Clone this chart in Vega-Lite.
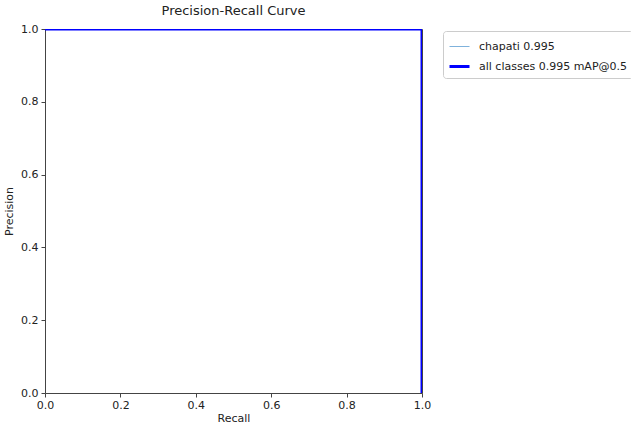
{
  "$schema": "https://vega.github.io/schema/vega-lite/v6.json",
  "width": 377,
  "height": 364,
  "autosize": {"type": "none"},
  "padding": {"left": 45, "top": 29, "right": 209, "bottom": 31},
  "background": "white",
  "config": {
    "font": "DejaVu Sans",
    "view": {"stroke": "#444444", "strokeWidth": 1},
    "axis": {"grid": false, "domain": false, "labelFlush": false, "tickColor": "#444444", "tickSize": 4, "labelColor": "#222", "labelFontSize": 11, "titleFontSize": 11, "titleFontWeight": "normal", "titleColor": "#222", "labelFont": "DejaVu Sans", "titleFont": "DejaVu Sans"}
  },
  "title": {"text": "Precision-Recall Curve", "fontSize": 13, "fontWeight": "normal", "font": "DejaVu Sans", "color": "#222", "offset": 5},
  "data": {
    "values": [
      {"series": "chapati 0.995", "order": 0, "recall": 0, "precision": 1},
      {"series": "chapati 0.995", "order": 1, "recall": 0.99, "precision": 1},
      {"series": "chapati 0.995", "order": 2, "recall": 1, "precision": 1},
      {"series": "chapati 0.995", "order": 3, "recall": 1, "precision": 0},
      {"series": "all classes 0.995 mAP@0.5", "order": 0, "recall": 0, "precision": 1},
      {"series": "all classes 0.995 mAP@0.5", "order": 1, "recall": 0.99, "precision": 1},
      {"series": "all classes 0.995 mAP@0.5", "order": 2, "recall": 1, "precision": 1},
      {"series": "all classes 0.995 mAP@0.5", "order": 3, "recall": 1, "precision": 0}
    ]
  },
  "mark": {"type": "line", "clip": true},
  "encoding": {
    "x": {"field": "recall", "type": "quantitative", "scale": {"domain": [0, 1], "nice": false}, "axis": {"title": "Recall", "values": [0, 0.2, 0.4, 0.6, 0.8, 1.0], "format": ".1f", "titlePadding": 2, "labelPadding": 2}},
    "y": {"field": "precision", "type": "quantitative", "scale": {"domain": [0, 1], "nice": false}, "axis": {"title": "Precision", "values": [0, 0.2, 0.4, 0.6, 0.8, 1.0], "format": ".1f", "titlePadding": 6, "labelPadding": 3}},
    "order": {"field": "order"},
    "color": {
      "field": "series", "type": "nominal",
      "scale": {"domain": ["chapati 0.995", "all classes 0.995 mAP@0.5"], "range": ["#7fb2dc", "#0000ff"]},
      "legend": {"title": null, "orient": "none", "legendX": 398, "legendY": 2, "symbolType": "stroke", "symbolSize": 400, "labelFontSize": 11, "labelColor": "#222", "padding": 5, "strokeColor": "#cccccc", "cornerRadius": 3, "fillColor": "white", "rowPadding": 3, "labelOffset": 8}
    },
    "strokeWidth": {
      "field": "series", "type": "nominal",
      "scale": {"domain": ["chapati 0.995", "all classes 0.995 mAP@0.5"], "range": [1, 3]},
      "legend": {"title": null, "orient": "none", "legendX": 398, "legendY": 2, "symbolType": "stroke", "symbolSize": 400, "labelFontSize": 11, "labelColor": "#222", "padding": 5, "strokeColor": "#cccccc", "cornerRadius": 3, "fillColor": "white", "rowPadding": 3, "labelOffset": 8}
    }
  }
}
